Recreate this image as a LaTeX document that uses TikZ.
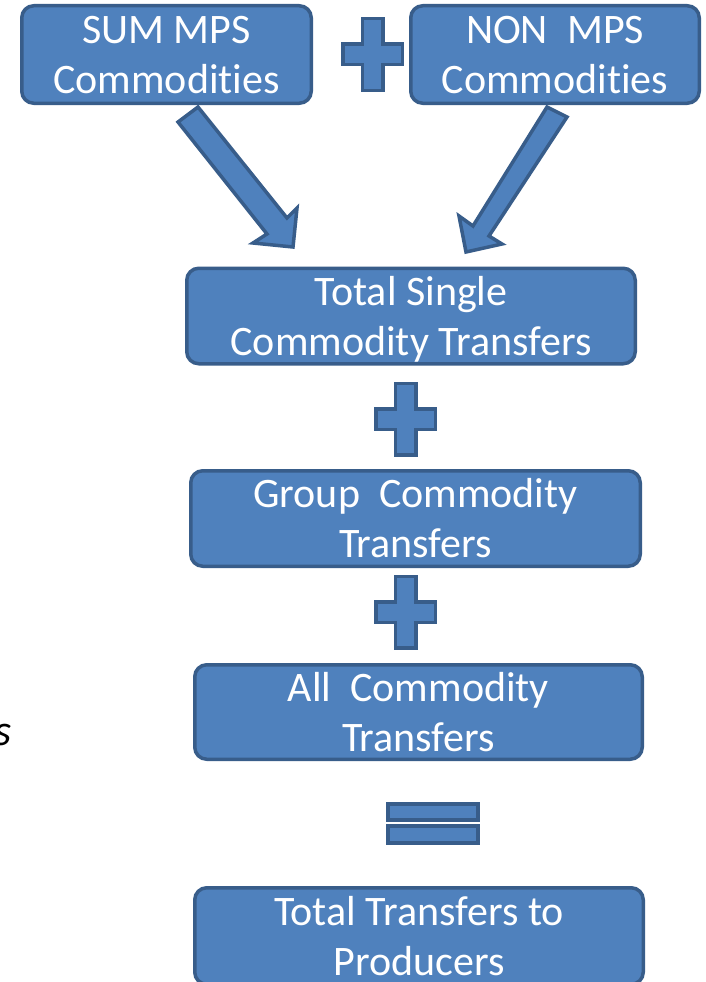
\documentclass[tikz,border=0pt]{standalone}
\usepackage{fontspec}
\setmainfont{Carlito}[Ligatures=CommonOff]
\definecolor{boxfill}{HTML}{4F81BD}
\definecolor{boxline}{HTML}{385D8A}
% two centred lines, shifted down by #3 pt
\newcommand{\twoline}[3]{\rule{0pt}{\dimexpr30pt+#3pt\relax}#1\\#2\rule[\dimexpr-10pt+#3pt\relax]{0pt}{\dimexpr10pt-#3pt\relax}}
\begin{document}
\begin{tikzpicture}[x=1pt,y=-1pt,
  box/.style={draw=boxline, fill=boxfill, line width=3.5pt, rounded corners=12pt,
    text=white, align=center, inner sep=0pt,
    font=\fontsize{42}{50}\selectfont},
  blockshape/.style={draw=boxline, fill=boxfill, line width=3.5pt, line join=miter},
  eqbar/.style={draw=boxline, fill=boxfill, line width=4pt}
]
\useasboundingbox (0,0) rectangle (706,982);
\fill[white] (0,0) rectangle (706,982);

% boxes
\node[box, minimum width=289.5pt, minimum height=97.5pt] (sum) at (166.5,54.5) {\twoline{SUM MPS}{Commodities}{4}};
\node[box, minimum width=288.5pt, minimum height=97.5pt] (non) at (555,54.5) {\twoline{NON\ \ MPS}{Commodities}{4}};
\node[box, minimum width=448.5pt, minimum height=95.5pt] (single) at (411,316) {\twoline{Total Single}{Commodity Transfers}{5}};
\node[box, minimum width=449.5pt, minimum height=95.5pt] (group) at (415.5,518.5) {\twoline{Group\ \ Commodity}{Transfers}{4}};
\node[box, minimum width=447.5pt, minimum height=94.5pt] (all) at (418.5,712) {\twoline{All\ \ Commodity}{Transfers}{4}};
\node[box, minimum width=448.5pt, minimum height=96.5pt] (total) at (419,936) {\twoline{Total Transfers to}{Producers}{4}};

% plus signs
\newcommand{\plussign}[2]{%
  \draw[blockshape] (#1-29.75,#2-10.25) -- (#1-10.25,#2-10.25) -- (#1-10.25,#2-35.75)
    -- (#1+10.25,#2-35.75) -- (#1+10.25,#2-10.25) -- (#1+29.75,#2-10.25)
    -- (#1+29.75,#2+10.25) -- (#1+10.25,#2+10.25) -- (#1+10.25,#2+35.75)
    -- (#1-10.25,#2+35.75) -- (#1-10.25,#2+10.25) -- (#1-29.75,#2+10.25) -- cycle;}
\plussign{372.5}{54.5}
\plussign{405.5}{419}
\plussign{405.5}{612}

% block arrows
\draw[blockshape] (178,122) -- (198,107) -- (287,218) -- (297,208) -- (293,247)
  -- (253,243) -- (267,234) -- cycle;
\draw[blockshape] (567,117) -- (547,107) -- (473,226) -- (459,216) -- (466,252)
  -- (502,244) -- (489,236) -- cycle;

% equals sign
\draw[eqbar] (388,804) rectangle (478,820);
\draw[eqbar] (388,826) rectangle (478,843);

% cut-off italic text at left
\node[anchor=base east, inner sep=0pt, font=\fontsize{44}{50}\selectfont\itshape] (cut) at (12,745) {s};
\end{tikzpicture}
\end{document}
